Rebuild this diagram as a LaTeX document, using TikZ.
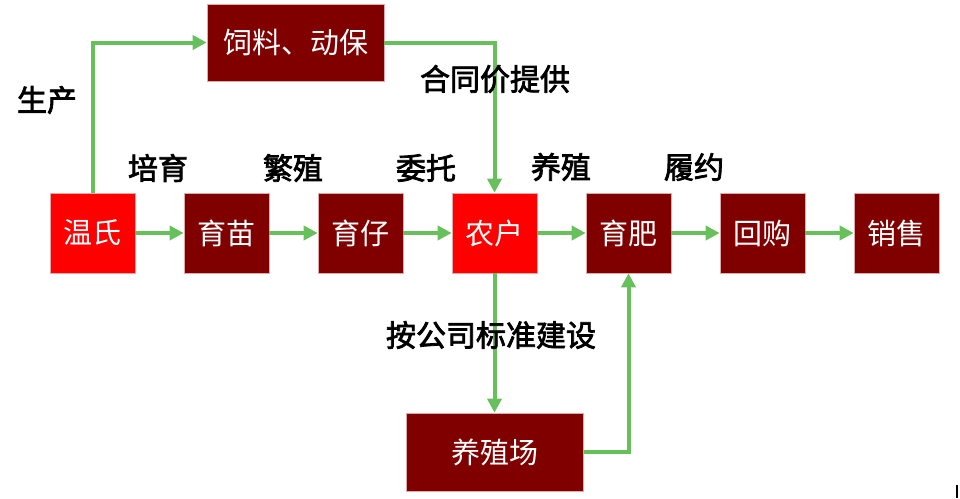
\documentclass[tikz,border=0pt]{standalone}
\usepackage{fontspec}
\setmainfont{Noto Sans CJK SC}
\newfontfamily\tagfont[FakeBold=2.5]{Noto Sans CJK SC}
\usetikzlibrary{arrows.meta}

\definecolor{maroonbox}{RGB}{128,0,0}
\definecolor{redbox}{RGB}{255,0,0}
\definecolor{flowgreen}{RGB}{104,192,92}
\definecolor{boxedge}{RGB}{225,170,170}

\begin{document}
\begin{tikzpicture}[x=1pt, y=-1pt,
		box/.style={draw=boxedge, line width=0.6pt, fill=maroonbox, text=white,
			minimum width=85pt, minimum height=80pt, inner sep=0pt,
			font=\fontsize{29}{31}\selectfont},
		keybox/.style={box, fill=redbox},
		widebox/.style={box, minimum width=177pt, minimum height=77pt},
		flow/.style={flowgreen, line width=4pt, -{Triangle[length=14pt, width=14pt]}},
		tag/.style={font=\tagfont\fontsize{30}{32}\selectfont}]
		\useasboundingbox (0, 0) rectangle (960, 498);

		% main chain
		\node [keybox] (wenshi) at (92.5, 233) {温氏};
		\node [box] (yumiao) at (226.5, 233) {育苗};
		\node [box] (yuzai) at (360.5, 233) {育仔};
		\node [keybox] (nonghu) at (494.5, 233) {农户};
		\node [box] (yufei) at (628.5, 233) {育肥};
		\node [box] (huigou) at (762.5, 233) {回购};
		\node [box] (xiaoshou) at (896.5, 233) {销售};

		% supply and farm
		\node [widebox] (feed) at (295.5, 42.5) {饲料、动保};
		\node [widebox, minimum height=78pt] (farm) at (495, 452) {养殖场};

		\draw [flow] (wenshi) -- (yumiao);
		\draw [flow] (yumiao) -- (yuzai);
		\draw [flow] (yuzai) -- (nonghu);
		\draw [flow] (nonghu) -- (yufei);
		\draw [flow] (yufei) -- (huigou);
		\draw [flow] (huigou) -- (xiaoshou);

		\draw [flow] (wenshi.north) |- (feed.west);
		\draw [flow] (feed.east) -| (nonghu.north);
		\draw [flow] (nonghu.south) -- (farm.north -| nonghu.south);
		\draw [flow] (farm.east) -| (yufei.south);

		% labels
		\node [tag] (lshengchan) at (47, 100) {生产};
		\node [tag] (lpeiyu) at (158, 168) {培育};
		\node [tag] (lfanzhi) at (293, 168) {繁殖};
		\node [tag] (lweituo) at (426, 168) {委托};
		\node [tag] (lyangzhi) at (561, 167) {养殖};
		\node [tag] (llvyue) at (694, 167) {履约};
		\node [tag] (lhetong) at (495, 79) {合同价提供};
		\node [tag] (ljianshe) at (491, 335) {按公司标准建设};

		\fill (956, 485) rectangle (958, 498);
	\end{tikzpicture}
\end{document}
